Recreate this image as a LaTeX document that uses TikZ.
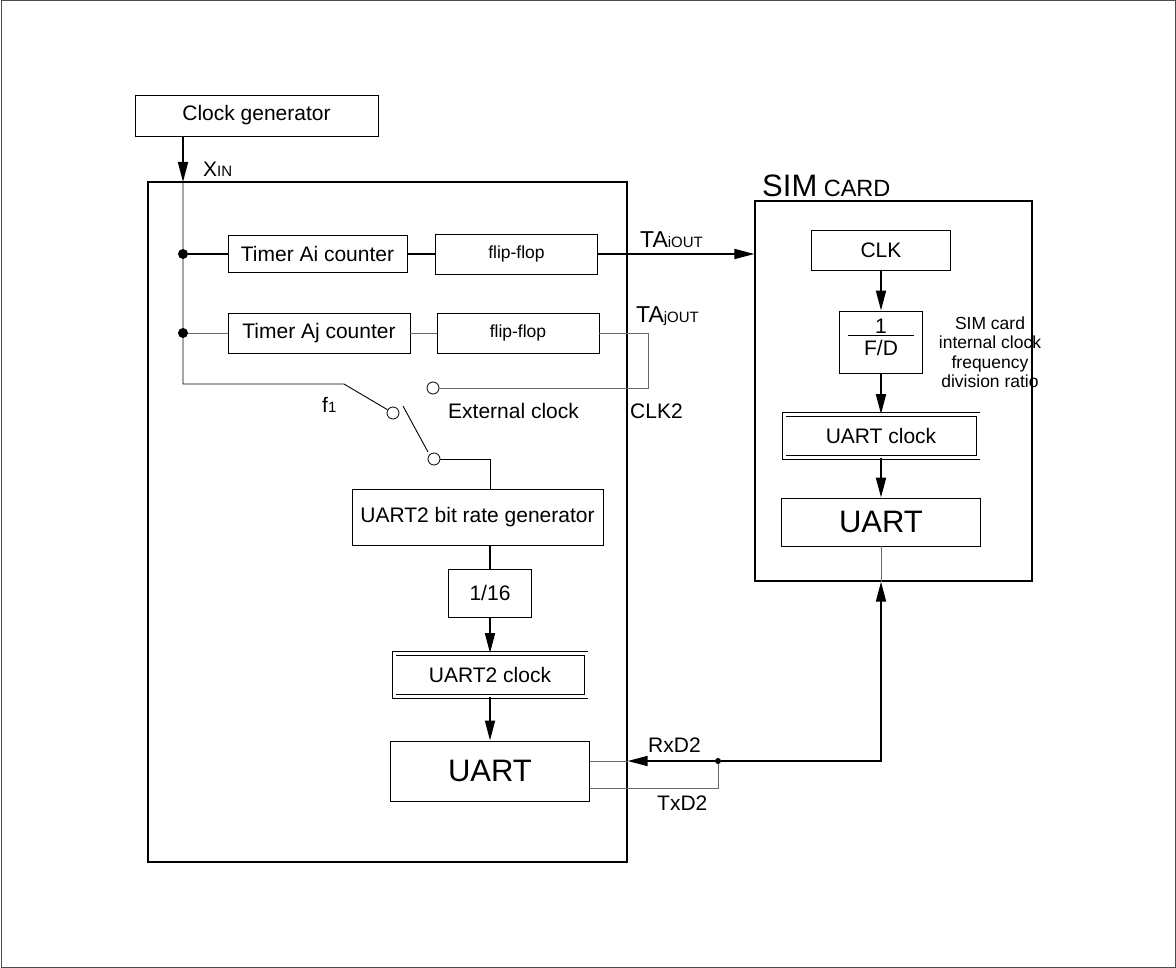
\documentclass[tikz,border=0pt]{standalone}
\usepackage{fontspec}
\setmainfont{Liberation Sans}
\usepackage{tikz}
\usetikzlibrary{arrows.meta, positioning}
\definecolor{wiregray}{RGB}{105,105,105}
\newcommand{\pxfont}[2]{\fontsize{#1}{#2}\selectfont}
\tikzstyle{block}   = [rectangle, draw=black, line width=0.9pt, inner sep=0pt, text centered, font=\pxfont{21}{25}]
\tikzstyle{flipbox} = [block, minimum width=162pt, minimum height=40pt, font=\pxfont{17.5}{21}]
\tikzstyle{dblock}  = [block, double, double distance=3pt, line width=0.8pt]
\tikzstyle{chip}    = [rectangle, draw=black, line width=1.3pt, inner sep=0pt]
\tikzstyle{arrow}   = [line width=1.8pt, -{Triangle[length=20pt,width=10pt]}]
\tikzstyle{bus}     = [line width=1.8pt]
\tikzstyle{wire}    = [line width=0.9pt]
\tikzstyle{gwire}   = [line width=0.9pt, draw=wiregray]
\tikzstyle{dot}     = [circle, fill=black, inner sep=0pt, minimum size=10pt]
\tikzstyle{tap}     = [circle, fill=black, inner sep=0pt, minimum size=6pt]
\tikzstyle{contact} = [circle, draw=black, fill=white, line width=0.8pt, inner sep=0pt, minimum size=12pt]
\tikzstyle{tag}     = [inner sep=0pt, font=\pxfont{21}{25}]
\tikzset{every node/.style={align=center}}

\begin{document}
\begin{tikzpicture}[x=1pt, y=-1pt]
    \useasboundingbox (0,0) rectangle (1176,968);
    \draw [line width=1pt, draw=black!70] (1,1) rectangle (1175,967);

    \node (clkgen) at (256.5,115.5) [block, minimum width=243pt, minimum height=41pt] {Clock generator};
    \node (mcu)    at (387.5,522)   [chip, minimum width=479pt, minimum height=680pt] {};
    \node (timAi)  at (317.5,254)   [block, minimum width=179pt, minimum height=37pt] {Timer Ai counter};
    \node (ffAi)   at (516.5,254)   [flipbox] {flip-flop};
    \node (timAj)  at (319,333)     [block, minimum width=182pt, minimum height=40pt] {Timer Aj counter};
    \node (ffAj)   at (518,333)     [flipbox] {flip-flop};
    \node (brg)    at (477.5,517)   [block, minimum width=251pt, minimum height=56pt] {UART2 bit rate generator};
    \node (div)    at (490,593)     [block, minimum width=83pt, minimum height=48pt] {1/16};
    \node (uclk2)  at (490,675)     [dblock, minimum width=192pt, minimum height=43pt] {UART2 clock};
    \node (uart2)  at (490,771)     [block, minimum width=199pt, minimum height=60pt, font=\pxfont{31}{36}] {UART};

    \node (sim)    at (893.5,391)   [chip, minimum width=277pt, minimum height=380pt] {};
    \node (simlbl) at (762,197)     [tag, anchor=base west] {\pxfont{31}{36}SIM\pxfont{23.5}{28} CARD};
    \node (clk)    at (881,250)     [block, minimum width=139pt, minimum height=40pt] {CLK};
    \node (fd)     at (881,342)     [block, minimum width=83pt, minimum height=62pt] {1\\[-22pt]\rule{66pt}{0.9pt}\\[-6pt]F/D\rule[-10pt]{0pt}{10pt}};
    \node (ratio)  at (990,352)     [tag, font=\pxfont{17.5}{19.5}] {SIM card\\internal clock\\frequency\\division ratio};
    \node (uclk)   at (881,436)     [dblock, minimum width=194pt, minimum height=43pt] {UART clock};
    \node (suart)  at (881,522)     [block, minimum width=199pt, minimum height=48pt, font=\pxfont{31}{36}] {UART};

    \node (xinl)   at (203,177)     [tag, anchor=base west] {X{\pxfont{15}{18}IN}};
    \node (taiout) at (640,248)     [tag, anchor=base west] {\pxfont{23}{27}TA\pxfont{15}{18}iOUT};
    \node (tajout) at (636,323)     [tag, anchor=base west] {\pxfont{23}{27}TA\pxfont{15}{18}jOUT};
    \node (clk2l)  at (630,418)     [tag, anchor=base west] {CLK2};
    \node (extl)   at (448,418)     [tag, anchor=base west] {External clock};
    \node (f1l)    at (322,413)     [tag, anchor=base west] {f{\pxfont{15}{18}1}};
    \node (rxl)    at (648,752)     [tag, anchor=base west] {RxD2};
    \node (txl)    at (657,810)     [tag, anchor=base west] {TxD2};

    \node (jAi)    at (183,254)     [dot] {};
    \node (jAj)    at (183,333)     [dot] {};
    \node (cf1)    at (393,413)     [contact] {};
    \node (cext)   at (433,388)     [contact] {};
    \node (csw)    at (434,459)     [contact] {};
    \node (rxtap)  at (718,761)     [tap] {};
    \coordinate (xin)    at (183,182);
    \coordinate (busend) at (183,384);
    \coordinate (f1knee) at (344,384);
    \coordinate (clk2)   at (648,388);
    \coordinate (txc)    at (718,788);

    \draw [arrow] (clkgen.south -| xin) -- (xin);
    \draw [wire]  (xin) -- (busend) -- (f1knee) -- (cf1);
    \draw [bus]   (jAi) -- (timAi);
    \draw [bus]   (timAi) -- (ffAi);
    \draw [arrow] (ffAi) -- (ffAi -| sim.west);
    \draw [gwire] (jAj) -- (timAj);
    \draw [gwire] (timAj) -- (ffAj);
    \draw [gwire] (ffAj) -| (clk2) -- (cext);
    \draw [wire]  (403,406) -- (428,452);
    \draw [wire]  (csw) -| (brg.north -| div);
    \draw [bus]   (brg.south -| div) -- (div);
    \draw [arrow] (div) -- (uclk2);
    \draw [arrow] (uclk2) -- (uart2);
    \draw [arrow] (rxtap) -- (rxtap -| mcu.east);
    \draw [gwire] (rxtap -| mcu.east) -- (rxtap -| uart2.east);
    \draw [gwire] (rxtap) -- (txc) -- (txc -| uart2.east);
    \draw [arrow] (rxtap) -| (sim.south -| suart);
    \draw [gwire] (suart) -- (sim.south -| suart);
    \draw [arrow] (clk) -- (fd);
    \draw [arrow] (fd) -- (uclk);
    \draw [arrow] (uclk) -- (suart);
\end{tikzpicture}
\end{document}
